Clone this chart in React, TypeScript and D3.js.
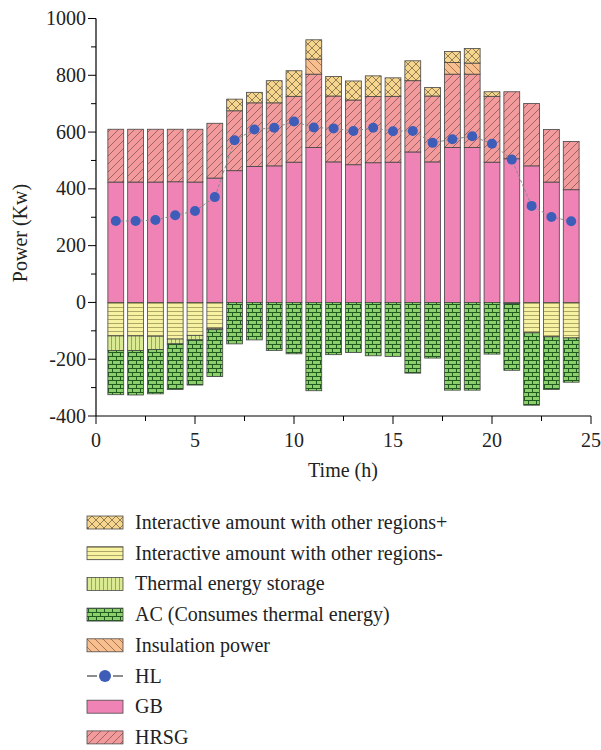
import React from "react";
import * as d3 from "d3";

const hours = d3.range(1, 25);
const gb = [424, 424, 424, 425, 424, 438, 464, 479, 481, 494, 546, 495, 485, 492, 494, 530, 495, 546, 546, 494, 506, 481, 424, 397];
const hrsg = [186, 186, 186, 185, 186, 193, 211, 224, 222, 232, 258, 232, 228, 233, 232, 251, 232, 258, 258, 232, 236, 220, 185, 170];
const insulation = [0, 0, 0, 0, 0, 0, 0, 0, 0, 0, 53, 0, 0, 0, 0, 0, 0, 41, 39, 0, 0, 0, 0, 0];
const interPlus = [0, 0, 0, 0, 0, 0, 41, 37, 78, 90, 68, 69, 67, 73, 65, 70, 30, 39, 51, 16, 0, 0, 0, 0];
const interMinus = [118, 118, 119, 129, 116, 91, 0, 0, 0, 0, 0, 0, 0, 0, 0, 0, 0, 0, 0, 0, 4, 107, 121, 125];
const storage = [51, 51, 47, 17, 16, 5, 0, 0, 0, 0, 0, 0, 0, 0, 0, 0, 0, 0, 0, 0, 0, 0, 0, 0];
const ac = [156, 157, 156, 161, 159, 165, 146, 132, 169, 181, 311, 184, 176, 188, 190, 249, 196, 309, 309, 182, 235, 255, 186, 156];
const hl = [287, 287, 290, 307, 322, 371, 571, 609, 615, 637, 616, 613, 604, 615, 603, 604, 562, 575, 585, 559, 503, 340, 301, 286];

const xTicks = [0, 5, 10, 15, 20, 25];
const yTicks = [-400, -200, 0, 200, 400, 600, 800, 1000];

const legendItems = [
  { key: "plus", label: "Interactive amount with other regions+" },
  { key: "minus", label: "Interactive amount with other regions-" },
  { key: "storage", label: "Thermal energy storage" },
  { key: "ac", label: "AC (Consumes thermal energy)" },
  { key: "ins", label: "Insulation power" },
  { key: "hl", label: "HL" },
  { key: "gb", label: "GB" },
  { key: "hrsg", label: "HRSG" },
];

const fills: Record<string, string> = {
  plus: "url(#pPlus)",
  minus: "url(#pMinus)",
  storage: "url(#pStorage)",
  ac: "url(#pAC)",
  ins: "url(#pIns)",
  gb: "#EF83B6",
  hrsg: "url(#pHRSG)",
};

const FONT = "'Liberation Serif', 'Times New Roman', serif";

export default function App() {
  const x = d3.scaleLinear().domain([0, 25]).range([96, 591]);
  const y = d3.scaleLinear().domain([-400, 1000]).range([416, 18.5]);
  const bw = (x(1) - x(0)) * 0.8;

  const posSeries = [
    { key: "gb", vals: gb },
    { key: "hrsg", vals: hrsg },
    { key: "ins", vals: insulation },
    { key: "plus", vals: interPlus },
  ];
  const negSeries = [
    { key: "minus", vals: interMinus },
    { key: "storage", vals: storage },
    { key: "ac", vals: ac },
  ];

  const rects: JSX.Element[] = [];
  hours.forEach((h, i) => {
    let base = 0;
    posSeries.forEach((s) => {
      const v = s.vals[i];
      if (v > 0) {
        rects.push(
          <rect key={`p-${s.key}-${h}`} x={x(h) - bw / 2} y={y(base + v)} width={bw} height={y(base) - y(base + v)}
            fill={fills[s.key]} stroke="#454545" strokeWidth={0.8} />
        );
      }
      base += v;
    });
    let nb = 0;
    negSeries.forEach((s) => {
      const v = s.vals[i];
      if (v > 0) {
        rects.push(
          <rect key={`n-${s.key}-${h}`} x={x(h) - bw / 2} y={y(nb)} width={bw} height={y(nb - v) - y(nb)}
            fill={fills[s.key]} stroke="#454545" strokeWidth={0.8} />
        );
      }
      nb -= v;
    });
  });

  const line = d3.line<number>().x((_, i) => x(hours[i])).y((d) => y(d));

  const minorX = d3.range(0, 25.01, 2.5);
  const minorY = d3.range(-400, 1001, 100);

  return (
    <div style={{ position: "absolute", left: 0, top: 0 }}>
      <svg width={601} height={750} style={{ display: "block", background: "#fff" }} fontFamily={FONT}>
        <defs>
          <pattern id="pHRSG" patternUnits="userSpaceOnUse" width={8} height={8}>
            <rect width={8} height={8} fill="#F29A9C" />
            <path d="M-2,2 L2,-2 M0,8 L8,0 M6,10 L10,6" stroke="#7a4a4a" strokeWidth={0.7} />
          </pattern>
          <pattern id="pIns" patternUnits="userSpaceOnUse" width={8} height={8}>
            <rect width={8} height={8} fill="#F9BE8E" />
            <path d="M-2,6 L2,10 M0,0 L8,8 M6,-2 L10,2" stroke="#7a5a40" strokeWidth={0.7} />
          </pattern>
          <pattern id="pPlus" patternUnits="userSpaceOnUse" width={8} height={8}>
            <rect width={8} height={8} fill="#F6D58E" />
            <path d="M0,0 L8,8 M0,8 L8,0" stroke="#6a5a3a" strokeWidth={0.7} />
          </pattern>
          <pattern id="pMinus" patternUnits="userSpaceOnUse" width={4} height={4}>
            <rect width={4} height={4} fill="#F7F1A2" />
            <path d="M0,3.5 L4,3.5" stroke="#9a9458" strokeWidth={0.8} />
          </pattern>
          <pattern id="pStorage" patternUnits="userSpaceOnUse" width={4} height={4}>
            <rect width={4} height={4} fill="#D9EA92" />
            <path d="M3.5,0 L3.5,4" stroke="#7f9a4a" strokeWidth={0.8} />
          </pattern>
          <pattern id="pAC" patternUnits="userSpaceOnUse" width={8} height={8}>
            <rect width={8} height={8} fill="#8DCF6A" />
            <path d="M0,0.5 L8,0.5 M0,4.5 L8,4.5 M0.5,0.5 L0.5,4.5 M4.5,4.5 L4.5,8" stroke="#1f5a1f" strokeWidth={1} />
          </pattern>
        </defs>

        {rects}

        <path d={line(hl) || ""} fill="none" stroke="#8a8a8a" strokeWidth={1} strokeDasharray="3,2" />
        {hl.map((v, i) => (
          <circle key={`hl-${i}`} cx={x(hours[i])} cy={y(v)} r={5} fill="#3E5DB8" />
        ))}

        {/* Axes */}
        <line x1={x(0)} x2={x(25)} y1={y(-400)} y2={y(-400)} stroke="#000" strokeWidth={1.2} />
        <line x1={x(0)} x2={x(0)} y1={y(-400)} y2={y(1000)} stroke="#000" strokeWidth={1.2} />
        {minorX.map((t) => (
          <line key={`xt-${t}`} x1={x(t)} x2={x(t)} y1={y(-400)} y2={y(-400) + (t % 5 === 0 ? 8 : 5)} stroke="#000" strokeWidth={1} />
        ))}
        {minorY.map((t) => (
          <line key={`yt-${t}`} x1={x(0)} x2={x(0) - (t % 200 === 0 ? 8 : 5)} y1={y(t)} y2={y(t)} stroke="#000" strokeWidth={1} />
        ))}
        {xTicks.map((t) => (
          <text key={`xl-${t}`} x={x(t)} y={y(-400) + 31} textAnchor="middle" fontSize={20} fill="#222">{t}</text>
        ))}
        {yTicks.map((t) => (
          <text key={`yl-${t}`} x={86} y={y(t) + 6.5} textAnchor="end" fontSize={20} fill="#222">{t}</text>
        ))}
        <text x={343} y={477} textAnchor="middle" fontSize={20} fill="#222">Time (h)</text>
        <text transform={`translate(27,233) rotate(-90)`} textAnchor="middle" fontSize={20} fill="#222">Power (Kw)</text>

        {/* Legend */}
        {legendItems.map((it, i) => {
          const cy = 522.5 + i * 30.7;
          return (
            <g key={it.key}>
              {it.key === "hl" ? (
                <g>
                  <line x1={87} x2={123} y1={cy} y2={cy} stroke="#666" strokeWidth={1.5} />
                  <rect x={97} y={cy - 2} width={16} height={4} fill="#fff" />
                  <circle cx={105} cy={cy} r={6} fill="#3E5DB8" />
                </g>
              ) : (
                <rect x={87} y={cy - 6.5} width={36} height={13} fill={fills[it.key]} stroke="#4a4a4a" strokeWidth={0.8} />
              )}
              <text x={135} y={cy + 6.5} fontSize={20} fill="#222">{it.label}</text>
            </g>
          );
        })}
      </svg>
    </div>
  );
}
